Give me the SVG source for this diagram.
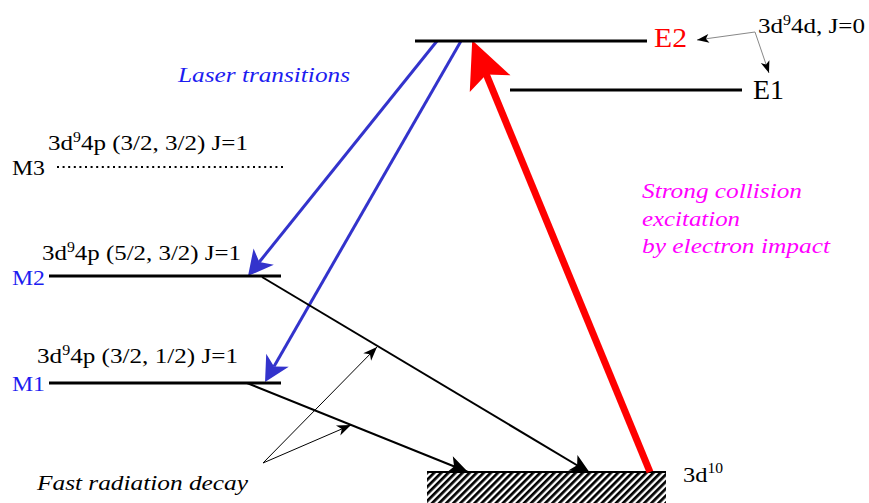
<svg xmlns="http://www.w3.org/2000/svg" width="869" height="503" viewBox="0 0 869 503">
  <style>
    text { font-family: 'Liberation Serif', 'DejaVu Serif', serif; font-size: 22px; fill: #000; }
    .it { font-style: italic; }
    .big { font-size: 28px; }
    .sup { font-size: 14px; }
    .lvl { stroke: #000; stroke-width: 3; fill: none; }
    .blue { fill: #1c1cf0; }
    .mag { fill: #ff00ff; }
    .red { fill: #ff0000; }
    .laser { stroke: #3333cc; stroke-width: 3; fill: none; }
    .pump { stroke: #ff0000; stroke-width: 7; fill: none; }
    .decay { stroke: #000; stroke-width: 2; fill: none; }
    .thin { stroke: #000; stroke-width: 1; fill: none; }
    .gray { stroke: #888; stroke-width: 1; fill: none; }
  </style>
  <defs>
    <pattern id="hatch" patternUnits="userSpaceOnUse" width="5" height="5" patternTransform="rotate(45)">
      <rect x="0" y="0" width="5" height="5" fill="#fff"/>
      <rect x="0" y="0" width="2.7" height="5" fill="#000"/>
    </pattern>
    <marker id="ahBlue" markerUnits="userSpaceOnUse" orient="auto" refX="0" refY="0" viewBox="-10 -15 32 30" markerWidth="32" markerHeight="30">
      <path d="M18,0 L-7,-13 L0,0 L-7,13 Z" fill="#3333cc"/>
    </marker>
    <marker id="ahRed" markerUnits="userSpaceOnUse" orient="auto" refX="0" refY="0" viewBox="-18 -25 54 50" markerWidth="54" markerHeight="50">
      <path d="M32,0 L-15,-22 L-5,0 L-15,22 Z" fill="#ff0000"/>
    </marker>
    <marker id="ahDecay" markerUnits="userSpaceOnUse" orient="auto" refX="0" refY="0" viewBox="-22 -10 24 20" markerWidth="24" markerHeight="20">
      <path d="M0,0 L-20,-9 L-15,0 L-20,9 Z" fill="#000"/>
    </marker>
    <marker id="ahThin" markerUnits="userSpaceOnUse" orient="auto" refX="0" refY="0" viewBox="-16 -7 18 14" markerWidth="18" markerHeight="14">
      <path d="M0,0 L-14,-5.5 L-10,0 L-14,5.5 Z" fill="#000"/>
    </marker>
    <marker id="ahSmall" markerUnits="userSpaceOnUse" orient="auto" refX="0" refY="0" viewBox="-14 -6 16 12" markerWidth="16" markerHeight="12">
      <path d="M0,0 L-12,-4.5 L-9,0 L-12,4.5 Z" fill="#000"/>
    </marker>
  </defs>

  <g id="connectors">
    <line class="laser" x1="437" y1="41" x2="259.3" y2="262" marker-end="url(#ahBlue)"/>
    <line class="laser" x1="461" y1="41" x2="274" y2="366.4" marker-end="url(#ahBlue)"/>
    <line class="decay" x1="262" y1="277" x2="590" y2="473" marker-end="url(#ahDecay)"/>
    <line class="decay" x1="247" y1="383" x2="468" y2="472" marker-end="url(#ahDecay)"/>
    <line class="thin" x1="263" y1="463" x2="377" y2="347" marker-end="url(#ahThin)"/>
    <line class="thin" x1="263" y1="463" x2="351" y2="425" marker-end="url(#ahThin)"/>
    <line class="gray" x1="755" y1="32" x2="697" y2="40" marker-end="url(#ahSmall)"/>
    <line class="gray" x1="755" y1="32" x2="769" y2="73" marker-end="url(#ahSmall)"/>
  </g>

  <g id="ground">
    <rect x="427" y="472" width="239" height="31" fill="url(#hatch)"/>
    <line x1="427" y1="472" x2="666" y2="472" stroke="#000" stroke-width="2"/>
    <text x="683" y="482" textLength="40" lengthAdjust="spacingAndGlyphs">3d<tspan class="sup" dy="-9">10</tspan></text>
  </g>

  <g id="pump">
    <line class="pump" x1="650" y1="472" x2="484.4" y2="69.8" marker-end="url(#ahRed)"/>
  </g>

  <g id="E2">
    <line class="lvl" x1="415" y1="41" x2="647" y2="41"/>
    <text class="big red" x="654" y="47" textLength="33" lengthAdjust="spacingAndGlyphs">E2</text>
  </g>
  <g id="E1">
    <line class="lvl" x1="510" y1="90" x2="742" y2="90"/>
    <text class="big" x="753" y="99" textLength="31" lengthAdjust="spacingAndGlyphs">E1</text>
  </g>
  <g id="E-config">
    <text x="758" y="33" textLength="107" lengthAdjust="spacingAndGlyphs">3d<tspan class="sup" dy="-8">9</tspan><tspan dy="8">4d, J=0</tspan></text>
  </g>

  <g id="M3">
    <line x1="57" y1="167" x2="283" y2="167" stroke="#000" stroke-width="2" stroke-dasharray="2 3.6"/>
    <text x="12" y="175" textLength="33" lengthAdjust="spacingAndGlyphs">M3</text>
    <text x="48" y="150" textLength="200" lengthAdjust="spacingAndGlyphs">3d<tspan class="sup" dy="-8">9</tspan><tspan dy="8">4p (3/2, 3/2) J=1</tspan></text>
  </g>
  <g id="M2">
    <line class="lvl" x1="49" y1="276" x2="281" y2="276"/>
    <text class="blue" x="12" y="285" textLength="33" lengthAdjust="spacingAndGlyphs">M2</text>
    <text x="42" y="260" textLength="199" lengthAdjust="spacingAndGlyphs">3d<tspan class="sup" dy="-8">9</tspan><tspan dy="8">4p (5/2, 3/2) J=1</tspan></text>
  </g>
  <g id="M1">
    <line class="lvl" x1="49" y1="383" x2="281" y2="383"/>
    <text class="blue" x="12" y="391" textLength="33" lengthAdjust="spacingAndGlyphs">M1</text>
    <text x="37" y="363" textLength="201" lengthAdjust="spacingAndGlyphs">3d<tspan class="sup" dy="-8">9</tspan><tspan dy="8">4p (3/2, 1/2) J=1</tspan></text>
  </g>

  <g id="labels">
    <text class="it blue" x="178" y="82" textLength="172" lengthAdjust="spacingAndGlyphs">Laser transitions</text>
    <text class="it mag" x="642" y="198" textLength="160" lengthAdjust="spacingAndGlyphs">Strong collision</text>
    <text class="it mag" x="642" y="226" textLength="98" lengthAdjust="spacingAndGlyphs">excitation</text>
    <text class="it mag" x="642" y="253" textLength="188" lengthAdjust="spacingAndGlyphs">by electron impact</text>
    <text class="it" x="37" y="490" textLength="211" lengthAdjust="spacingAndGlyphs">Fast radiation decay</text>
  </g>
</svg>
